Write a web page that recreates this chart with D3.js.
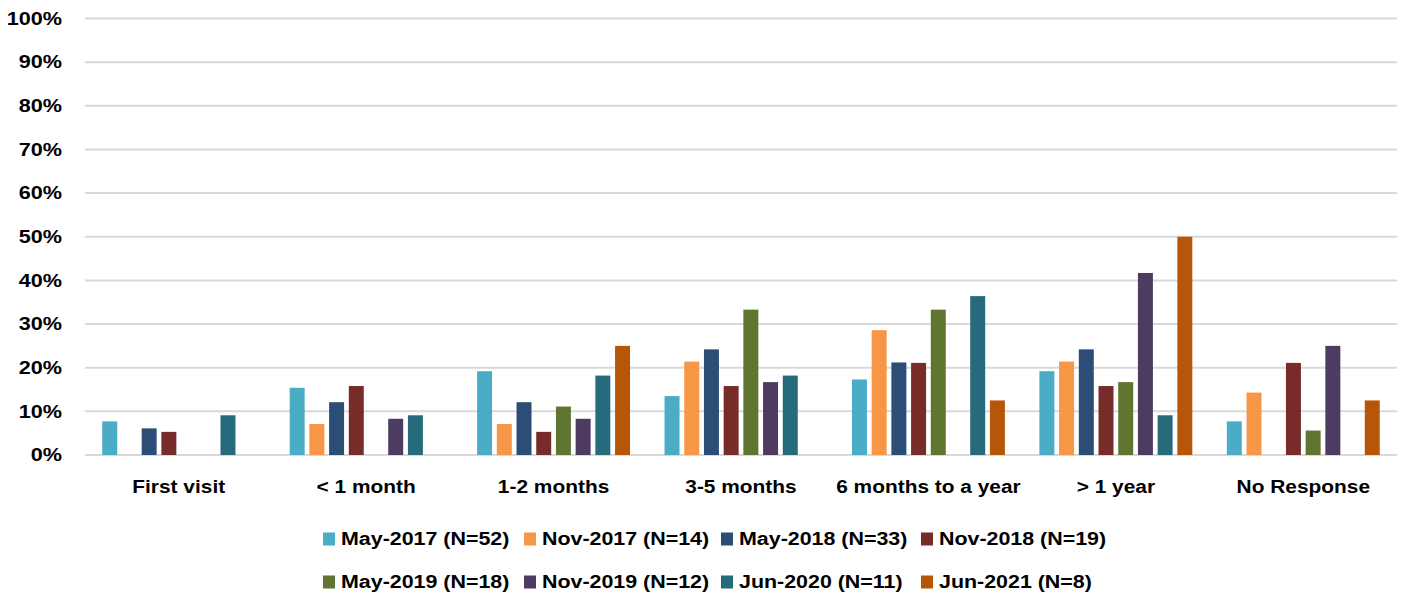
<!DOCTYPE html>
<html>
<head>
<meta charset="utf-8">
<script src="https://cdn.jsdelivr.net/npm/d3@7"></script>
<style>
  body { margin: 0; background: #fff; }
  svg text { font-family: "Liberation Sans", Arial, sans-serif; font-weight: bold; fill: #000; }
</style>
</head>
<body>
<div id="chart-container"></div>
<script>
// categories + series (values in %)
const categories = ["First visit", "< 1 month", "1-2 months", "3-5 months", "6 months to a year", "> 1 year", "No Response"];
const seriesNames = ["May-2017 (N=52)", "Nov-2017 (N=14)", "May-2018 (N=33)", "Nov-2018 (N=19)",
                     "May-2019 (N=18)", "Nov-2019 (N=12)", "Jun-2020 (N=11)", "Jun-2021 (N=8)"];
const seriesColors = ["#4BACC6", "#F79646", "#2C4D75", "#772C2A", "#5F7530", "#4D3B62", "#276A7C", "#B65708"];

const may2017 = [7.7, 15.4, 19.2, 13.5, 17.3, 19.2, 7.7];
const nov2017 = [0, 7.1, 7.1, 21.4, 28.6, 21.4, 14.3];
const may2018 = [6.1, 12.1, 12.1, 24.2, 21.2, 24.2, 0];
const nov2018 = [5.3, 15.8, 5.3, 15.8, 21.1, 15.8, 21.1];
const may2019 = [0, 0, 11.1, 33.3, 33.3, 16.7, 5.6];
const nov2019 = [0, 8.3, 8.3, 16.7, 0, 41.7, 25.0];
const jun2020 = [9.1, 9.1, 18.2, 18.2, 36.4, 9.1, 0];
const jun2021 = [0, 0, 25.0, 0, 12.5, 50.0, 12.5];
const seriesValues = [may2017, nov2017, may2018, nov2018, may2019, nov2019, jun2020, jun2021];

const yTicks = [0, 10, 20, 30, 40, 50, 60, 70, 80, 90, 100];

const width = 1411, height = 599;
const margin = { left: 85, right: 14, top: 18.5, bottom: 144 };

const svg = d3.select("#chart-container")
    .append("svg")
    .attr("width", width)
    .attr("height", height);

const x0 = d3.scaleBand().domain(categories).range([margin.left, width - margin.right]);
const bw = x0.bandwidth();
const x1 = d3.scaleBand().domain(seriesNames)
    .range([17.25, bw - 17.25])
    .paddingInner(0.24)
    .paddingOuter(0);
const y = d3.scaleLinear().domain([0, 100]).range([height - margin.bottom, margin.top]);

// gridlines
svg.append("g")
    .selectAll("line")
    .data(yTicks)
    .enter().append("line")
    .attr("x1", margin.left)
    .attr("x2", width - margin.right)
    .attr("y1", d => y(d))
    .attr("y2", d => y(d))
    .attr("stroke", "#d9d9d9")
    .attr("stroke-width", 2);

// y labels (text is a bit wider than Arial, so stretch it horizontally)
svg.append("g")
    .selectAll("text")
    .data(yTicks)
    .enter().append("text")
    .attr("transform", d => `translate(62,${y(d)}) scale(1.2,1)`)
    .attr("dy", "0.35em")
    .attr("text-anchor", "end")
    .style("font-size", "18px")
    .text(d => d + "%");

// bars
const groups = svg.append("g")
    .selectAll("g")
    .data(seriesNames)
    .enter().append("g")
    .attr("fill", (d, i) => seriesColors[i]);

groups.selectAll("rect")
    .data((s, i) => seriesValues[i].map((v, j) => ({ s: s, cat: categories[j], v: v })))
    .enter().append("rect")
    .filter(d => d.v > 0)
    .attr("x", d => x0(d.cat) + x1(d.s))
    .attr("y", d => y(d.v))
    .attr("width", x1.bandwidth())
    .attr("height", d => y(0) - y(d.v));

// x labels
svg.append("g")
    .selectAll("text")
    .data(categories)
    .enter().append("text")
    .attr("transform", d => `translate(${x0(d) + bw / 2},493) scale(1.13,1)`)
    .attr("text-anchor", "middle")
    .style("font-size", "18.5px")
    .text(d => d);

// legend
const legendCols = [323, 524, 721, 921];
const legend = svg.append("g")
    .selectAll("g")
    .data(seriesNames)
    .enter().append("g")
    .attr("transform", (d, i) => `translate(${legendCols[i % 4]},${i < 4 ? 539 : 582})`);

legend.append("rect")
    .attr("x", 0)
    .attr("y", -6.5)
    .attr("width", 12)
    .attr("height", 13)
    .attr("fill", (d, i) => seriesColors[i]);

legend.append("text")
    .attr("transform", "translate(18,0) scale(1.19,1)")
    .attr("dy", "0.35em")
    .style("font-size", "18px")
    .text(d => d);
</script>
</body>
</html>
